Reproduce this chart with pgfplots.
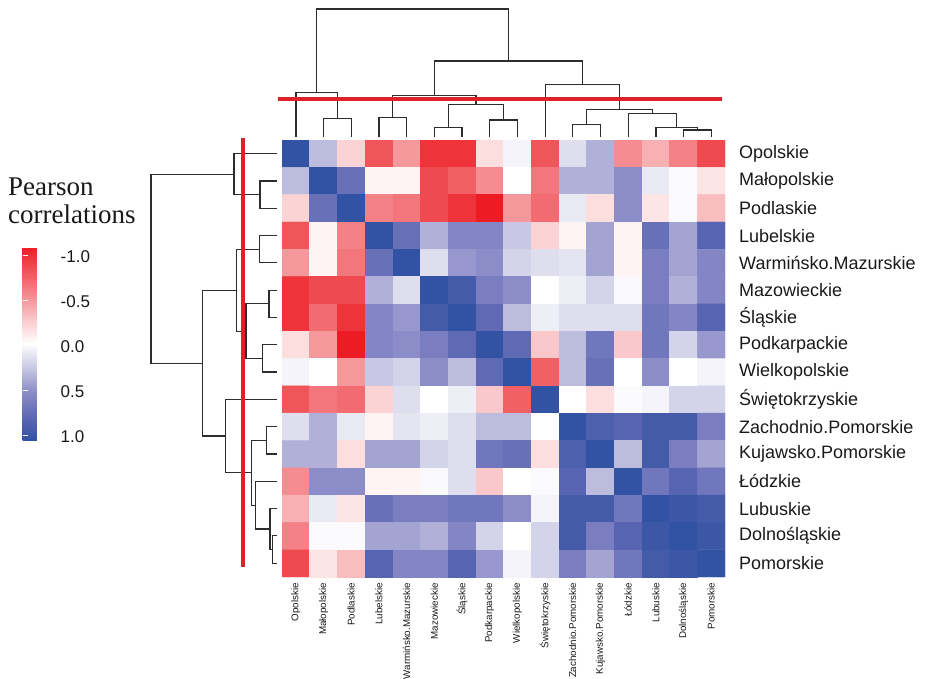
\documentclass[border=0pt]{standalone}
\usepackage{fontspec}
\setmainfont{Liberation Sans}
\newfontfamily\seriffont{Liberation Serif}
\usepackage{pgfplots}
\pgfplotsset{compat=1.18}
\definecolor{redline}{RGB}{222,32,40}
\definecolor{dendro}{RGB}{45,45,45}
\definecolor{labcol}{RGB}{25,25,25}
\pgfplotsset{colormap={rwb}{rgb255=(237,28,36) rgb255=(240,85,90) rgb255=(244,140,145) rgb255=(250,200,202) rgb255=(255,255,255) rgb255=(200,200,228) rgb255=(140,140,200) rgb255=(95,105,180) rgb255=(50,82,163)}}
\tikzset{dend/.style={dendro, line width=1.2pt, mark=none, line join=miter, solid}}
\begin{document}
\begin{tikzpicture}
\useasboundingbox (0,0) rectangle (926pt,-678pt);
% ---------------- heatmap ----------------
\begin{axis}[
  at={(282pt,-577pt)}, anchor=south west, scale only axis,
  width=443pt, height=437pt,
  xmin=-0.5, xmax=15.5, ymin=-0.5, ymax=15.5, y dir=reverse,
  axis line style={draw=none}, major tick length=0pt,
  colormap name=rwb, point meta min=-1, point meta max=1,
  xtick={0,...,15}, ytick={0,...,15},
  xticklabels={Opolskie,Małopolskie,Podlaskie,Lubelskie,Warmińsko.Mazurskie,Mazowieckie,Śląskie,Podkarpackie,Wielkopolskie,Świętokrzyskie,Zachodnio.Pomorskie,Kujawsko.Pomorskie,Łódzkie,Lubuskie,Dolnośląskie,Pomorskie},
  yticklabels={Opolskie,Małopolskie,Podlaskie,Lubelskie,Warmińsko.Mazurskie,Mazowieckie,Śląskie,Podkarpackie,Wielkopolskie,Świętokrzyskie,Zachodnio.Pomorskie,Kujawsko.Pomorskie,Łódzkie,Lubuskie,Dolnośląskie,Pomorskie},
  yticklabel pos=right,
  xticklabel shift=6pt, yticklabel shift=14pt,
  x tick label style={rotate=90, anchor=east, inner sep=0pt, text=labcol, font=\fontsize{9.8}{10}\selectfont},
  y tick label style={anchor=west, inner sep=0pt, text=labcol, font=\fontsize{18}{20}\selectfont},
]
\addplot[matrix plot*, mesh/cols=16, point meta=explicit] coordinates {
(0,0)[1.0] (1,0)[0.3] (2,0)[-0.2] (3,0)[-0.75] (4,0)[-0.45] (5,0)[-0.9] (6,0)[-0.9] (7,0)[-0.15] (8,0)[0.05] (9,0)[-0.75] (10,0)[0.15] (11,0)[0.35] (12,0)[-0.5] (13,0)[-0.35] (14,0)[-0.55] (15,0)[-0.8]
(0,1)[0.3] (1,1)[1.0] (2,1)[0.7] (3,1)[-0.05] (4,1)[-0.05] (5,1)[-0.8] (6,1)[-0.7] (7,1)[-0.5] (8,1)[0.0] (9,1)[-0.6] (10,1)[0.35] (11,1)[0.35] (12,1)[0.5] (13,1)[0.1] (14,1)[0.02] (15,1)[-0.12]
(0,2)[-0.2] (1,2)[0.7] (2,2)[1.0] (3,2)[-0.55] (4,2)[-0.6] (5,2)[-0.8] (6,2)[-0.9] (7,2)[-1.0] (8,2)[-0.45] (9,2)[-0.65] (10,2)[0.1] (11,2)[-0.15] (12,2)[0.5] (13,2)[-0.12] (14,2)[0.02] (15,2)[-0.3]
(0,3)[-0.75] (1,3)[-0.05] (2,3)[-0.55] (3,3)[1.0] (4,3)[0.7] (5,3)[0.35] (6,3)[0.55] (7,3)[0.55] (8,3)[0.25] (9,3)[-0.2] (10,3)[-0.05] (11,3)[0.4] (12,3)[-0.05] (13,3)[0.7] (14,3)[0.4] (15,3)[0.8]
(0,4)[-0.45] (1,4)[-0.05] (2,4)[-0.6] (3,4)[0.7] (4,4)[1.0] (5,4)[0.15] (6,4)[0.45] (7,4)[0.5] (8,4)[0.2] (9,4)[0.15] (10,4)[0.12] (11,4)[0.4] (12,4)[-0.05] (13,4)[0.6] (14,4)[0.4] (15,4)[0.55]
(0,5)[-0.9] (1,5)[-0.8] (2,5)[-0.8] (3,5)[0.35] (4,5)[0.15] (5,5)[1.0] (6,5)[0.9] (7,5)[0.6] (8,5)[0.5] (9,5)[0.0] (10,5)[0.08] (11,5)[0.2] (12,5)[0.03] (13,5)[0.6] (14,5)[0.35] (15,5)[0.55]
(0,6)[-0.9] (1,6)[-0.65] (2,6)[-0.9] (3,6)[0.55] (4,6)[0.45] (5,6)[0.9] (6,6)[1.0] (7,6)[0.75] (8,6)[0.3] (9,6)[0.08] (10,6)[0.15] (11,6)[0.15] (12,6)[0.15] (13,6)[0.65] (14,6)[0.55] (15,6)[0.8]
(0,7)[-0.15] (1,7)[-0.45] (2,7)[-1.0] (3,7)[0.55] (4,7)[0.5] (5,7)[0.6] (6,7)[0.75] (7,7)[1.0] (8,7)[0.75] (9,7)[-0.25] (10,7)[0.3] (11,7)[0.65] (12,7)[-0.25] (13,7)[0.65] (14,7)[0.2] (15,7)[0.45]
(0,8)[0.05] (1,8)[0.0] (2,8)[-0.45] (3,8)[0.25] (4,8)[0.2] (5,8)[0.5] (6,8)[0.3] (7,8)[0.75] (8,8)[1.0] (9,8)[-0.7] (10,8)[0.3] (11,8)[0.7] (12,8)[0.0] (13,8)[0.5] (14,8)[0.0] (15,8)[0.05]
(0,9)[-0.75] (1,9)[-0.6] (2,9)[-0.65] (3,9)[-0.2] (4,9)[0.15] (5,9)[0.0] (6,9)[0.08] (7,9)[-0.25] (8,9)[-0.7] (9,9)[1.0] (10,9)[0.0] (11,9)[-0.15] (12,9)[0.02] (13,9)[0.05] (14,9)[0.2] (15,9)[0.2]
(0,10)[0.15] (1,10)[0.35] (2,10)[0.1] (3,10)[-0.05] (4,10)[0.12] (5,10)[0.08] (6,10)[0.15] (7,10)[0.3] (8,10)[0.3] (9,10)[0.0] (10,10)[1.0] (11,10)[0.85] (12,10)[0.8] (13,10)[0.9] (14,10)[0.9] (15,10)[0.6]
(0,11)[0.35] (1,11)[0.35] (2,11)[-0.15] (3,11)[0.4] (4,11)[0.4] (5,11)[0.2] (6,11)[0.15] (7,11)[0.65] (8,11)[0.7] (9,11)[-0.15] (10,11)[0.85] (11,11)[1.0] (12,11)[0.3] (13,11)[0.9] (14,11)[0.6] (15,11)[0.4]
(0,12)[-0.5] (1,12)[0.5] (2,12)[0.5] (3,12)[-0.05] (4,12)[-0.05] (5,12)[0.03] (6,12)[0.15] (7,12)[-0.25] (8,12)[0.0] (9,12)[0.02] (10,12)[0.8] (11,12)[0.3] (12,12)[1.0] (13,12)[0.65] (14,12)[0.8] (15,12)[0.65]
(0,13)[-0.35] (1,13)[0.1] (2,13)[-0.12] (3,13)[0.7] (4,13)[0.6] (5,13)[0.6] (6,13)[0.65] (7,13)[0.65] (8,13)[0.5] (9,13)[0.05] (10,13)[0.9] (11,13)[0.9] (12,13)[0.65] (13,13)[1.0] (14,13)[0.95] (15,13)[0.9]
(0,14)[-0.55] (1,14)[0.02] (2,14)[0.02] (3,14)[0.4] (4,14)[0.4] (5,14)[0.35] (6,14)[0.55] (7,14)[0.2] (8,14)[0.0] (9,14)[0.2] (10,14)[0.9] (11,14)[0.6] (12,14)[0.8] (13,14)[0.95] (14,14)[1.0] (15,14)[0.95]
(0,15)[-0.8] (1,15)[-0.12] (2,15)[-0.3] (3,15)[0.8] (4,15)[0.55] (5,15)[0.55] (6,15)[0.8] (7,15)[0.45] (8,15)[0.05] (9,15)[0.2] (10,15)[0.6] (11,15)[0.4] (12,15)[0.65] (13,15)[0.9] (14,15)[0.95] (15,15)[1.0]
};
\end{axis}
% ---------------- colour key ----------------
\begin{axis}[
  at={(14pt,-247pt)}, anchor=north west, scale only axis,
  width=33pt, height=193pt, hide axis,
  colormap name=rwb, point meta min=-1.09, point meta max=1.055,
  colorbar,
  colorbar style={
    at={(parent axis.north west)}, anchor=north west, xshift=0pt,
    width=33pt, height=193pt, y dir=reverse,
    ytick={-1,-0.5,0,0.5,1}, yticklabels={-1.0,-0.5,0.0,0.5,1.0},
    ytick pos=both, yticklabel pos=right, tick align=inside,
    major tick length=5pt, tick style={white, line width=0.7pt},
    axis line style={draw=none},
    yticklabel style={font=\fontsize{17}{19}\selectfont, text=labcol, inner sep=0pt, xshift=5pt, yshift=-2pt},
  },
]
\addplot[draw=none] coordinates {(0,0)};
\end{axis}
% ---------------- dendrograms, cut lines, title ----------------
\begin{axis}[
  at={(0pt,0pt)}, anchor=north west, scale only axis,
  width=926pt, height=678pt,
  xmin=0, xmax=926, ymin=0, ymax=678, y dir=reverse,
  hide axis, clip=false,
]
% top dendrogram
\addplot[dend] coordinates {(323.5,137)(323.5,118.3)(351.2,118.3)(351.2,137)};
\addplot[dend] coordinates {(296,137)(296,92.3)(337.4,92.3)(337.4,118.3)};
\addplot[dend] coordinates {(378.9,137)(378.9,117.3)(406.6,117.3)(406.6,137)};
\addplot[dend] coordinates {(434.3,137)(434.3,127.3)(462,127.3)(462,137)};
\addplot[dend] coordinates {(489.7,137)(489.7,120)(517.4,120)(517.4,137)};
\addplot[dend] coordinates {(448.2,127.3)(448.2,104.3)(503.6,104.3)(503.6,120)};
\addplot[dend] coordinates {(392.8,117.3)(392.8,95.7)(475.9,95.7)(475.9,104.3)};
\addplot[dend] coordinates {(572.8,137)(572.8,124.3)(600.5,124.3)(600.5,137)};
\addplot[dend] coordinates {(683.6,137)(683.6,130)(711.3,130)(711.3,137)};
\addplot[dend] coordinates {(655.9,137)(655.9,127.7)(697.5,127.7)(697.5,130)};
\addplot[dend] coordinates {(628.2,137)(628.2,113.3)(676.7,113.3)(676.7,127.7)};
\addplot[dend] coordinates {(586.7,124.3)(586.7,109.3)(652.5,109.3)(652.5,113.3)};
\addplot[dend] coordinates {(545.1,137)(545.1,84.3)(619.6,84.3)(619.6,109.3)};
\addplot[dend] coordinates {(434.3,95.7)(434.3,61)(582.4,61)(582.4,84.3)};
\addplot[dend] coordinates {(316.7,92.3)(316.7,9)(508.4,9)(508.4,61)};
% left dendrogram
\addplot[dend] coordinates {(277,180.95)(260,180.95)(260,208.25)(277,208.25)};
\addplot[dend] coordinates {(277,153.65)(234,153.65)(234,194.6)(260,194.6)};
\addplot[dend] coordinates {(277,235.55)(259.3,235.55)(259.3,262.85)(277,262.85)};
\addplot[dend] coordinates {(277,290.15)(269,290.15)(269,317.45)(277,317.45)};
\addplot[dend] coordinates {(277,344.75)(262.7,344.75)(262.7,372.05)(277,372.05)};
\addplot[dend] coordinates {(269,303.8)(246,303.8)(246,358.4)(262.7,358.4)};
\addplot[dend] coordinates {(259.3,249.2)(236.7,249.2)(236.7,331.1)(246,331.1)};
\addplot[dend] coordinates {(277,426.65)(266.7,426.65)(266.7,453.95)(277,453.95)};
\addplot[dend] coordinates {(277,535.85)(272.3,535.85)(272.3,563.15)(277,563.15)};
\addplot[dend] coordinates {(277,508.55)(270,508.55)(270,549.5)(272.3,549.5)};
\addplot[dend] coordinates {(277,481.25)(255.7,481.25)(255.7,529)(270,529)};
\addplot[dend] coordinates {(266.7,440.3)(251.7,440.3)(251.7,505.1)(255.7,505.1)};
\addplot[dend] coordinates {(277,399.35)(225.7,399.35)(225.7,472.7)(251.7,472.7)};
\addplot[dend] coordinates {(236.7,290.2)(202.7,290.2)(202.7,436)(225.7,436)};
\addplot[dend] coordinates {(234,174.1)(151,174.1)(151,363.1)(202.7,363.1)};
% cut lines
\addplot[redline, line width=4pt, mark=none, solid] coordinates {(278,99)(722,99)};
\addplot[redline, line width=4pt, mark=none, solid] coordinates {(242.7,138)(242.7,567)};
\node[anchor=base west, inner sep=0pt, text=labcol, font=\seriffont\fontsize{27}{30}\selectfont] at (axis cs:8,195) {Pearson};
\node[anchor=base west, inner sep=0pt, text=labcol, font=\seriffont\fontsize{27}{30}\selectfont] at (axis cs:8,223) {correlations};
\end{axis}
\end{tikzpicture}
\end{document}
